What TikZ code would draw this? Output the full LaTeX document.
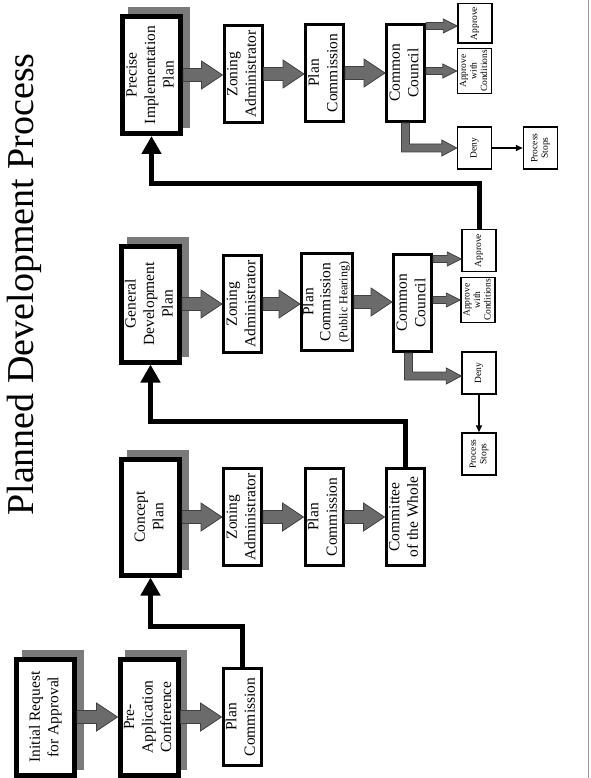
\documentclass[tikz,border=0pt]{standalone}
\usepackage{fontspec}
\setmainfont{Liberation Serif}
\usepackage{graphicx}
\usetikzlibrary{arrows.meta,shadows,calc}

\newcommand{\vtext}[1]{\rotatebox{90}{\begin{tabular}{@{}c@{}}#1\end{tabular}}}

\begin{document}
\begin{tikzpicture}[x=1pt, y=-1pt, >=Triangle,
  every node/.style={inner sep=0pt, font=\fontsize{15.5}{18.5}\selectfont},
  stagebox/.style={draw, line width=5pt, fill=white, minimum width=58pt, minimum height=116pt,
    drop shadow={shadow xshift=7pt, shadow yshift=7pt, fill=black!52, draw=black!52, line width=4pt, opacity=1}},
  stepbox/.style={draw, line width=3pt, fill=white, minimum width=38pt, minimum height=97pt},
  outcome/.style={draw, line width=1.5pt, fill=white, minimum width=34pt, minimum height=42pt,
    font=\fontsize{9.5}{10.5}\selectfont},
  fatarrow/.style n args={3}{draw=black!75, fill=black!58, line width=0.8pt,
    to path={let \p1=(\tikztostart), \p2=(\tikztotarget) in
      (\x1,\y1+#1) -- (\x2-#3,\y1+#1) -- (\x2-#3,\y1+#2) -- (\x2,\y1)
      -- (\x2-#3,\y1-#2) -- (\x2-#3,\y1-#1) -- (\x1,\y1-#1) -- cycle}},
  bigarrow/.style={fatarrow={6.5pt}{14pt}{21pt}},
  smallarrow/.style={fatarrow={3.5pt}{7pt}{14pt}},
  elbowarrow/.style={draw=black!75, fill=black!58, line width=0.8pt,
    to path={let \p1=(\tikztostart), \p2=(\tikztotarget) in
      (\x1-4pt,\y1) -- (\x1-4pt,\y2-4pt) -- (\x2-15pt,\y2-4pt) -- (\x2-15pt,\y2-8pt) -- (\x2,\y2)
      -- (\x2-15pt,\y2+8pt) -- (\x2-15pt,\y2+4pt) -- (\x1+4pt,\y2+4pt) -- (\x1+4pt,\y1) -- cycle}},
  flow/.style={line width=5pt, -{Triangle[width=19pt,length=18pt]}},
  thinflow/.style={line width=1.5pt, -{Triangle[width=6pt,length=7pt]}}]

  % Page
  \fill[white] (0,0) rectangle (590,778);
  \useasboundingbox (0,0) rectangle (590,778);
  \draw[black!40, line width=1pt] (588.5,0) -- (588.5,778);

  % Title
  \node[rotate=90, anchor=base, font=\fontsize{38}{40}\selectfont] (title) at (33,284.5) {Planned Development Process};

  % Stage 1
  \node[stagebox] (irq) at (45.5,717) {\vtext{Initial Request\\for Approval}};
  \node[stagebox] (ipa) at (149,717) {\vtext{Pre-\\Application\\Conference}};
  \node[stepbox] (pc1) at (242,717) {\vtext{Plan\\Commission}};
  \draw[bigarrow] (irq.east) to (ipa.west);
  \draw[bigarrow] (ipa.east) to (pc1.west);

  % Stage 2
  \node[stagebox] (cp) at (150.5,517) {\vtext{Concept\\Plan}};
  \node[stepbox] (za2) at (242.5,517) {\vtext{Zoning\\Administrator}};
  \node[stepbox] (pc2) at (324,517) {\vtext{Plan\\Commission}};
  \node[stepbox] (cw) at (405,517) {\vtext{Committee\\of the Whole}};
  \draw[bigarrow] (cp.east) to (za2.west);
  \draw[bigarrow] (za2.east) to (pc2.west);
  \draw[bigarrow] (pc2.east) to (cw.west);

  % Stage 3
  \node[stagebox] (gdp) at (150.5,304) {\vtext{General\\Development\\Plan}};
  \node[stepbox] (za3) at (242.5,304) {\vtext{Zoning\\Administrator}};
  \node[stepbox, minimum width=49pt, font=\fontsize{15.5}{17}\selectfont] (pc3) at (327,302)
    {\vtext{Plan\\Commission\\{\fontsize{12}{13}\selectfont(Public Hearing)}}};
  \node[stepbox] (cc3) at (412.5,303) {\vtext{Common\\Council}};
  \node[outcome] (apv3) at (479,250.5) {\vtext{Approve}};
  \node[outcome, minimum height=45pt] (awc3) at (478,300) {\vtext{Approve\\with\\Conditions}};
  \node[outcome] (deny3) at (479,373) {\vtext{Deny}};
  \node[outcome] (ps3) at (479,454) {\vtext{Process\\Stops}};
  \draw[bigarrow] (gdp.east) to (za3.west);
  \draw[bigarrow] (za3.east) to (pc3.west);
  \draw[bigarrow] (pc3.east) to (cc3.west);
  \draw[smallarrow] ($(cc3.east |- apv3.west)+(0,8.5)$) to (apv3.west);
  \draw[smallarrow] (cc3.east |- awc3.west) to (awc3.west);
  \draw[elbowarrow] ([xshift=-4pt]cc3.south) to ([yshift=-3pt]deny3.west);
  \draw[thinflow] (deny3) -- (ps3);

  % Stage 4
  \node[stagebox, minimum height=117pt] (pip) at (151.5,75) {\vtext{Precise\\Implementation\\Plan}};
  \node[stepbox] (za4) at (243,74) {\vtext{Zoning\\Administrator}};
  \node[stepbox] (pc4) at (324.5,73) {\vtext{Plan\\Commission}};
  \node[stepbox] (cc4) at (405.5,73) {\vtext{Common\\Council}};
  \node[outcome, minimum height=39.5pt] (apv4) at (475,23.5) {\vtext{Approve}};
  \node[outcome, minimum height=45pt] (awc4) at (474.5,71) {\vtext{Approve\\with\\Conditions}};
  \node[outcome] (deny4) at (474.5,148) {\vtext{Deny}};
  \node[outcome] (ps4) at (540.5,148) {\vtext{Process\\Stops}};
  \draw[bigarrow] (pip.east) to (za4.west);
  \draw[bigarrow] (za4.east) to (pc4.west);
  \draw[bigarrow] (pc4.east) to (cc4.west);
  \draw[smallarrow] ($(cc4.east |- apv4.west)+(0,2.5)$) to (apv4.west);
  \draw[smallarrow] (cc4.east |- awc4.west) to (awc4.west);
  \draw[elbowarrow] (cc4.south) to (deny4.west);
  \draw[thinflow] (deny4) -- (ps4);

  % Stage links
  \draw[flow] (pc1.north) -- ++(0,-41) -| (cp.south);
  \draw[flow] (cw.north) -- ++(0,-46) -| (gdp.south);
  \draw[flow] (apv3.north) -- ++(0,-45) -| (pip.south);
\end{tikzpicture}
\end{document}
